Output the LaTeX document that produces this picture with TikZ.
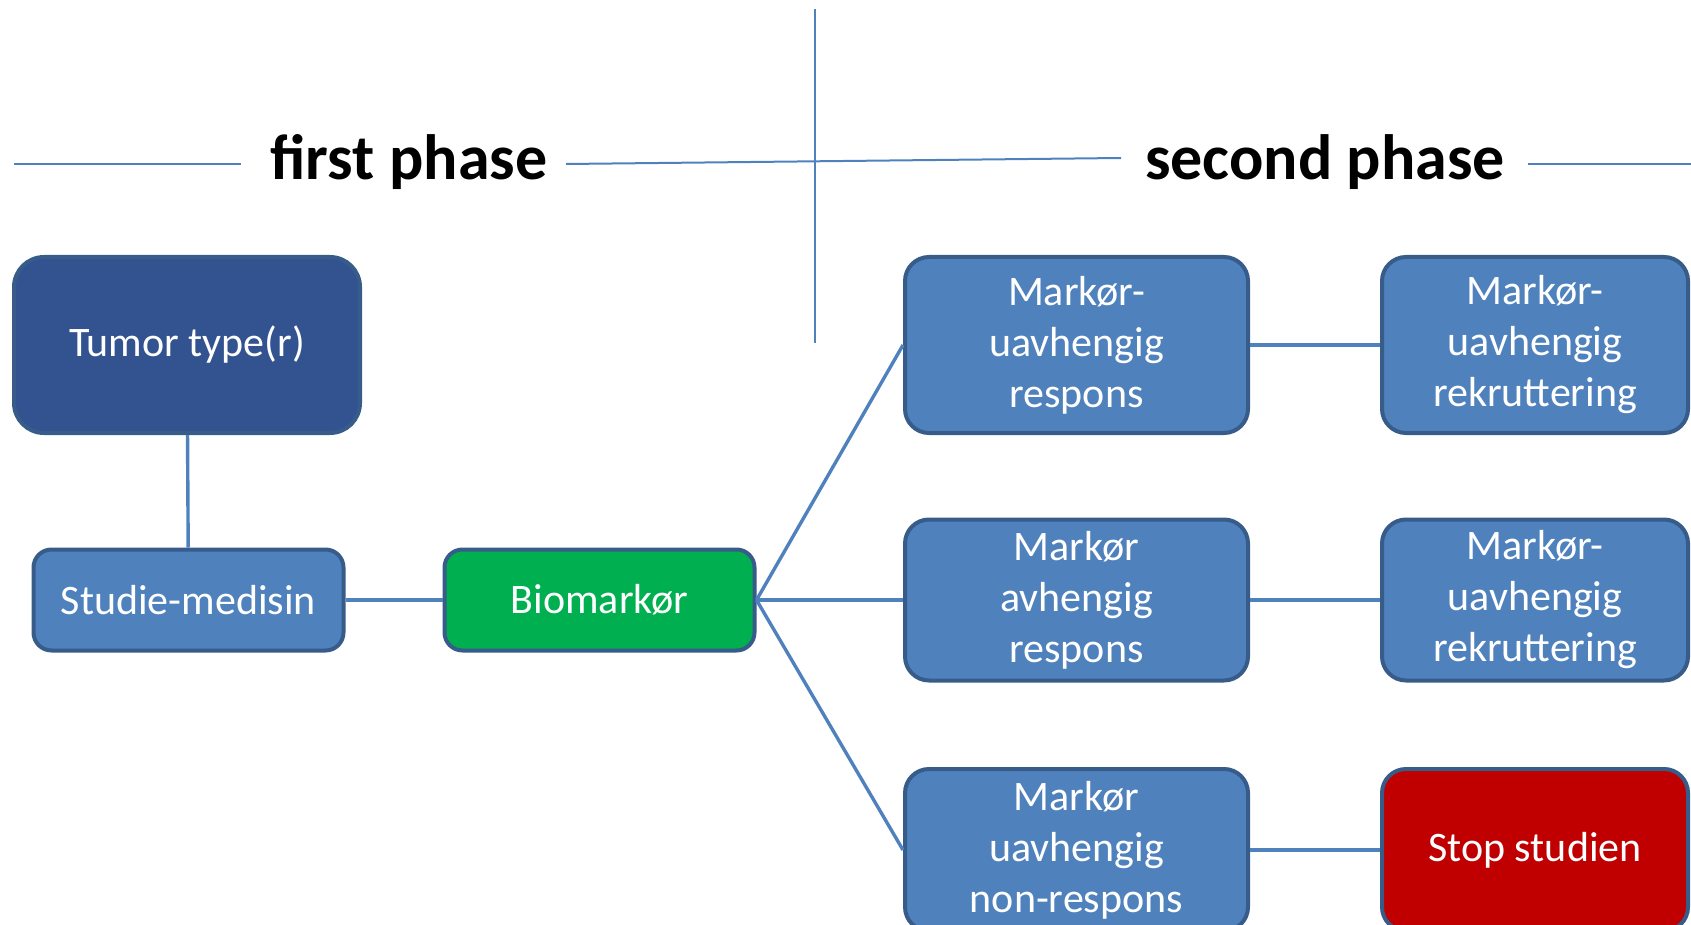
\documentclass[tikz,border=0pt]{standalone}
\usepackage{fontspec}
\setmainfont{Carlito}
\definecolor{boxblue}{RGB}{79, 129, 189}
\definecolor{rimblue}{RGB}{56, 92, 138}
\definecolor{tumorblue}{RGB}{50, 82, 144}
\definecolor{markgreen}{RGB}{0, 176, 80}
\definecolor{stopred}{RGB}{192, 0, 0}
\usetikzlibrary{positioning}

\begin{document}
\begin{tikzpicture}[x=0.5pt, y=-0.5pt,
  box/.style={draw=rimblue, line width=2pt, fill=boxblue, text=white, rounded corners=12pt,
    align=center, inner sep=2pt, font=\fontsize{21}{25.5}\selectfont},
  wide/.style={box, minimum width=171.5pt, minimum height=88pt},
  small/.style={box, minimum width=155pt, minimum height=50.5pt, rounded corners=9pt},
  side/.style={box, minimum width=153pt},
  link/.style={draw=boxblue, line width=1.7pt},
  phase/.style={font=\fontsize{32}{36}\selectfont\bfseries, anchor=base},
  rule/.style={draw=boxblue, line width=1pt}]
  \useasboundingbox (0,0) rectangle (1691,925);

  % phase headings
  \node[phase] (first) at (409,180) {first phase};
  \node[phase] (second) at (1325,180) {second phase};
  \draw[rule] (14,164) -- (241,164);
  \draw[rule] (566,164) -- (1121,158);
  \draw[rule] (1528,164) -- (1691,164);
  \draw[rule] (815,9) -- (815,343);

  % first phase
  \node[wide, minimum width=173pt, fill=tumorblue, rounded corners=15pt] (tumor) at (187,345) {Tumor type(r)};
  \node[small] (studie) at (188.5,600) {Studie-medisin};
  \node[small, fill=markgreen] (bio) at (599.5,600) {Biomarkør};

  % second phase
  \node[wide] (resp) at (1076.5,345) {Markør-\\uavhengig\\respons};
  \node[wide, minimum height=80.5pt] (dep) at (1076.5,600) {Markør\\avhengig\\respons};
  \node[wide, minimum height=81pt] (nonresp) at (1076.5,850) {Markør\\uavhengig\\non-respons};
  \node[side, minimum height=88pt] (rekr1) at (1535,345) {Markør-\\uavhengig\\rekruttering};
  \node[side, minimum height=80.5pt] (rekr2) at (1535,600) {Markør-\\uavhengig\\rekruttering};
  \node[side, minimum height=81pt, fill=stopred] (stop) at (1535,850) {Stop studien};

  % connectors
  \draw[link] (tumor) -- (studie);
  \draw[link] (studie) -- (bio);
  \draw[link] (bio.east) -- (resp.west);
  \draw[link] (bio.east) -- (dep.west);
  \draw[link] (bio.east) -- (nonresp.west);
  \draw[link] (resp) -- (rekr1);
  \draw[link] (dep) -- (rekr2);
  \draw[link] (nonresp) -- (stop);
\end{tikzpicture}
\end{document}
